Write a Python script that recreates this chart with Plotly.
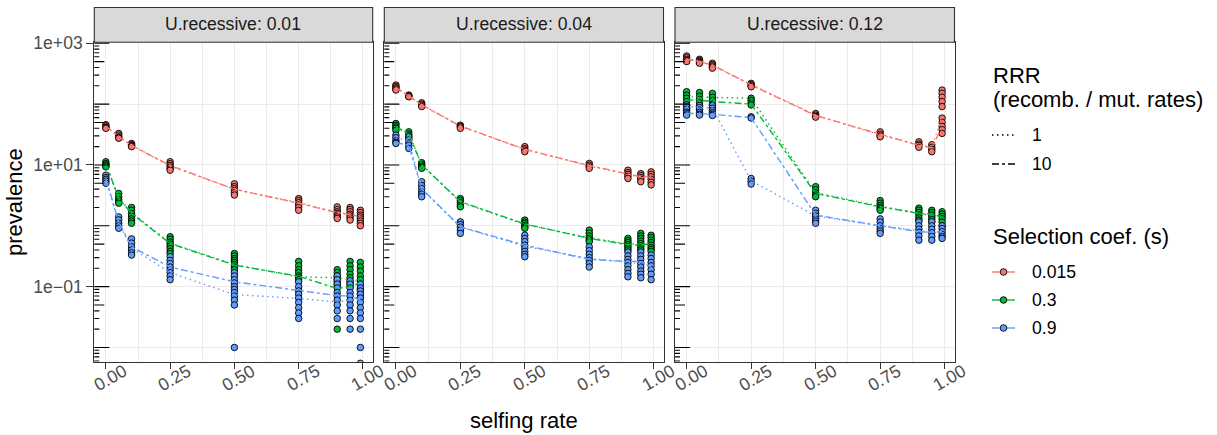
import math
import plotly.graph_objects as go

W, H = 1217, 435

# ---------------- data ----------------
selfing = [0, 0.05, 0.1, 0.25, 0.5, 0.75, 0.9, 0.95, 0.99]
u_labels = ["U.recessive: 0.01", "U.recessive: 0.04", "U.recessive: 0.12"]
s_labels = ["0.015", "0.3", "0.9"]
rrr_labels = ["1", "10"]
x_tick_vals = [0, 0.25, 0.5, 0.75, 1.0]
x_tick_text = ["0.00", "0.25", "0.50", "0.75", "1.00"]
y_tick_vals = [0.1, 10, 1000]
y_tick_text = ["1e\u221201", "1e+01", "1e+03"]

# replicate points: one list per selfing rate
pts_u001_s0015 = [[46, 44, 42, 41, 40], [33, 31, 29, 28, 27.5], [22.5, 21.5, 21, 20.5, 20],
                  [11.3, 10.5, 9.8, 9.2, 8.6, 8.2], [4.9, 4.4, 4.1, 3.8, 3.5, 3.2],
                  [2.8, 2.6, 2.4, 2.2, 2.0, 1.8], [2.05, 1.85, 1.7, 1.6, 1.5, 1.4, 1.32],
                  [2.0, 1.85, 1.7, 1.55, 1.45, 1.35, 1.24], [1.8, 1.65, 1.5, 1.4, 1.3, 1.2, 1.1, 1.0]]
pts_u001_s03 = [[11.3, 10.5, 10, 9.6, 9.3], [3.4, 3.0, 2.7, 2.5, 2.35], [2.0, 1.8, 1.6, 1.45, 1.3, 1.2, 1.1],
                [0.66, 0.6, 0.54, 0.5, 0.46, 0.42, 0.38, 0.35], [0.35, 0.32, 0.29, 0.27, 0.25, 0.23, 0.21, 0.19],
                [0.26, 0.22, 0.19, 0.17, 0.15, 0.14, 0.13], [0.19, 0.17, 0.15, 0.14, 0.13, 0.12, 0.11, 0.1, 0.02],
                [0.26, 0.22, 0.19, 0.16, 0.14, 0.12, 0.11, 0.1], [0.25, 0.21, 0.18, 0.15, 0.13, 0.11, 0.09, 0.075, 0.066]]
pts_u001_s09 = [[6.8, 6.2, 5.8, 5.4, 5.0], [1.4, 1.25, 1.1, 1.0, 0.91], [0.61, 0.52, 0.45, 0.4, 0.36, 0.33],
                [0.31, 0.27, 0.24, 0.21, 0.19, 0.17, 0.15, 0.13],
                [0.17, 0.15, 0.13, 0.115, 0.1, 0.09, 0.08, 0.07, 0.06, 0.05, 0.01],
                [0.12, 0.1, 0.085, 0.075, 0.065, 0.055, 0.045, 0.037, 0.03],
                [0.15, 0.13, 0.11, 0.095, 0.08, 0.07, 0.06, 0.05, 0.04, 0.03],
                [0.125, 0.11, 0.095, 0.08, 0.07, 0.06, 0.05, 0.04, 0.03, 0.02],
                [0.11, 0.095, 0.085, 0.075, 0.065, 0.055, 0.045, 0.037, 0.03, 0.02, 0.01, 0.0055]]

pts_u004_s0015 = [[206, 195, 185, 178, 170], [141, 137, 134, 132], [105, 100, 96, 91], [45, 43.5, 42, 40],
                  [20, 18.5, 17.5, 16.5], [10.6, 9.9, 9.3, 8.8], [8.2, 7.5, 7.0, 6.5, 6.0],
                  [7.2, 6.7, 6.2, 5.8, 5.3], [7.7, 7.0, 6.4, 5.8, 5.2, 4.7]]
pts_u004_s03 = [[48, 45, 42, 40, 37], [35, 32, 30, 27.5], [10.9, 10.2, 9.6, 9.2, 8.8], [2.8, 2.6, 2.4, 2.2, 2.05],
                [1.24, 1.15, 1.08, 1.0, 0.95, 0.91], [0.85, 0.76, 0.68, 0.62, 0.58, 0.55],
                [0.62, 0.57, 0.53, 0.49, 0.46, 0.43, 0.4], [0.75, 0.68, 0.62, 0.56, 0.51, 0.47, 0.43, 0.4],
                [0.7, 0.64, 0.58, 0.53, 0.48, 0.44, 0.41, 0.38]]
pts_u004_s09 = [[31, 28, 25, 23.5, 22.6], [29, 26, 23, 21, 18.7], [5.3, 4.6, 4.1, 3.6, 3.3, 3.0],
                [1.16, 1.05, 0.95, 0.85, 0.75], [0.7, 0.62, 0.55, 0.48, 0.43, 0.38, 0.34, 0.31],
                [0.45, 0.39, 0.34, 0.3, 0.27, 0.24, 0.21], [0.37, 0.32, 0.28, 0.25, 0.22, 0.19, 0.165, 0.145],
                [0.37, 0.32, 0.28, 0.24, 0.21, 0.18, 0.16, 0.14], [0.33, 0.29, 0.25, 0.22, 0.19, 0.16, 0.13]]

pts_u012_s0015 = [[618, 580, 545, 520, 500], [545, 520, 500, 485, 470], [470, 445, 425, 405, 390],
                  [219, 210, 200, 193], [70, 66, 63, 61], [35, 32, 30, 29], [24, 22, 21, 19.5],
                  [21.5, 19.5, 18, 16.5], [170, 150, 130, 110, 91, 59, 50, 43, 38, 33]]
pts_u012_s03 = [[160, 140, 125, 110, 95, 85, 79], [155, 135, 120, 105, 92, 82], [150, 130, 115, 100, 88, 80],
                [125, 115, 105, 97], [4.4, 3.9, 3.5, 3.2, 3.0], [2.6, 2.35, 2.15, 2.0, 1.9, 1.8],
                [1.95, 1.8, 1.65, 1.5, 1.35, 1.24], [1.8, 1.65, 1.5, 1.38, 1.27, 1.16],
                [1.7, 1.55, 1.42, 1.3, 1.15, 1.0]]
pts_u012_s09 = [[97, 90, 82, 74, 70, 66], [95, 88, 80, 73, 68, 66], [95, 86, 78, 72, 68, 65],
                [62, 59, 6.0, 5.4, 4.85], [1.8, 1.6, 1.45, 1.3, 1.2, 1.1], [1.3, 1.15, 1.0, 0.9, 0.82, 0.75],
                [1.16, 1.0, 0.88, 0.78, 0.68, 0.58], [1.16, 1.0, 0.88, 0.77, 0.67, 0.58],
                [1.0, 0.9, 0.8, 0.72, 0.66, 0.62]]

# summary lines per RRR
line_u001_s0015_rrr1 = [42, 29, 21, 9.6, 4.0, 2.4, 1.66, 1.55, 1.45]
line_u001_s0015_rrr10 = [43, 29.5, 21, 9.8, 4.0, 2.35, 1.64, 1.52, 1.42]
line_u001_s03_rrr1 = [10.4, 2.9, 1.65, 0.52, 0.23, 0.145, 0.14, 0.13, 0.12]
line_u001_s03_rrr10 = [10.6, 2.8, 1.6, 0.51, 0.226, 0.148, 0.093, 0.1, 0.115]
line_u001_s09_rrr1 = [5.8, 1.1, 0.43, 0.17, 0.074, 0.064, 0.056, 0.06, 0.06]
line_u001_s09_rrr10 = [6.0, 1.16, 0.45, 0.21, 0.12, 0.085, 0.071, 0.07, 0.06]

line_u004_s0015_rrr1 = [187, 135, 98, 43, 18.2, 9.6, 7.0, 6.3, 6.3]
line_u004_s0015_rrr10 = [189, 136, 97, 43.7, 18, 9.8, 7.1, 6.4, 6.5]
line_u004_s03_rrr1 = [43, 33, 10.2, 2.45, 1.05, 0.64, 0.5, 0.5, 0.5]
line_u004_s03_rrr10 = [42, 32, 10, 2.5, 1.07, 0.62, 0.49, 0.48, 0.51]
line_u004_s09_rrr1 = [28, 25, 4.0, 0.95, 0.46, 0.29, 0.25, 0.24, 0.22]
line_u004_s09_rrr10 = [23.4, 21, 4.1, 0.96, 0.48, 0.28, 0.26, 0.26, 0.21]

line_u012_s0015_rrr1 = [560, 510, 430, 210, 66, 31, 21.5, 19.5, 62]
line_u012_s0015_rrr10 = [545, 500, 440, 206, 65, 32, 21, 19, 42]
line_u012_s03_rrr1 = [132, 130, 128, 125, 3.5, 2.1, 1.6, 1.5, 1.4]
line_u012_s03_rrr10 = [117, 116, 110, 100, 3.4, 2.05, 1.6, 1.55, 1.4]
line_u012_s09_rrr1 = [91, 88, 86, 5.5, 1.45, 1.0, 0.82, 0.78, 0.8]
line_u012_s09_rrr10 = [71, 70, 68, 60, 1.5, 1.0, 0.8, 0.78, 0.8]

points = [
    [pts_u001_s0015, pts_u001_s03, pts_u001_s09],
    [pts_u004_s0015, pts_u004_s03, pts_u004_s09],
    [pts_u012_s0015, pts_u012_s03, pts_u012_s09],
]
lines = [
    [[line_u001_s0015_rrr1, line_u001_s0015_rrr10], [line_u001_s03_rrr1, line_u001_s03_rrr10],
     [line_u001_s09_rrr1, line_u001_s09_rrr10]],
    [[line_u004_s0015_rrr1, line_u004_s0015_rrr10], [line_u004_s03_rrr1, line_u004_s03_rrr10],
     [line_u004_s09_rrr1, line_u004_s09_rrr10]],
    [[line_u012_s0015_rrr1, line_u012_s0015_rrr10], [line_u012_s03_rrr1, line_u012_s03_rrr10],
     [line_u012_s09_rrr1, line_u012_s09_rrr10]],
]

# ---------------- style ----------------
FONT = "Liberation Sans, Arial, sans-serif"
s_colors = ["#F8766D", "#00BA38", "#619CFF"]
rrr_dash = ["1.5px,3.5px", "7px,3px,3px,3px"]
LW = 1.4

panels_px = [(94.3, 372.7), (384.3, 663.5), (675.0, 954.5)]
top_px, bot_px = 42.3, 361.7
strip_top_px = 7.5
x_range = [-0.045, 1.038]
y_range = [-2.234, 3.016]


def px_x(p):
    return p / W


def px_y(p):
    return 1 - p / H


fig = go.Figure()

for p in range(3):
    ax = "" if p == 0 else str(p + 1)
    for si in range(3):
        xs, ys = [], []
        for xi, vals in zip(selfing, points[p][si]):
            xs += [xi] * len(vals)
            ys += vals
        fig.add_trace(go.Scatter(
            x=xs, y=ys, mode="markers", xaxis="x" + ax, yaxis="y" + ax, showlegend=False,
            marker=dict(size=6.5, color=s_colors[si], line=dict(color="black", width=0.9)),
            hoverinfo="skip"))
    for si in range(3):
        for ri in range(2):
            fig.add_trace(go.Scatter(
                x=selfing, y=lines[p][si][ri], mode="lines", xaxis="x" + ax, yaxis="y" + ax,
                showlegend=False, line=dict(color=s_colors[si], width=LW, dash=rrr_dash[ri]),
                hoverinfo="skip"))

layout = dict(
    width=W, height=H, margin=dict(l=0, r=0, t=0, b=0, autoexpand=False),
    paper_bgcolor="white", plot_bgcolor="white", showlegend=False,
    font=dict(family=FONT, size=17.6, color="#1A1A1A"),
    shapes=[], annotations=[],
)

for p in range(3):
    ax = "" if p == 0 else str(p + 1)
    l, r = panels_px[p]
    layout["xaxis" + ax] = dict(
        domain=[px_x(l), px_x(r)], range=x_range, anchor="y" + ax,
        tickmode="array", tickvals=x_tick_vals, showticklabels=False,
        ticks="outside", ticklen=6, tickwidth=1.1, tickcolor="#333333",
        showgrid=True, gridcolor="#EBEBEB", gridwidth=1.1,
        minor=dict(tickmode="array", tickvals=[0.125, 0.375, 0.625, 0.875], showgrid=True,
                   gridcolor="#EBEBEB", gridwidth=0.55, ticks=""),
        showline=True, mirror=True, linecolor="#333333", linewidth=1.1, zeroline=False,
    )
    layout["yaxis" + ax] = dict(
        domain=[px_y(bot_px), px_y(top_px)], type="log", range=y_range, anchor="x" + ax,
        tickmode="array", tickvals=y_tick_vals, ticktext=y_tick_text,
        showticklabels=(p == 0), ticks="outside" if p == 0 else "", ticklen=7, tickwidth=1.1,
        tickcolor="#333333", tickfont=dict(size=17.6, color="#4D4D4D", family=FONT),
        showgrid=True, gridcolor="#EBEBEB", gridwidth=1.1,
        minor=dict(tickmode="array", tickvals=[0.01, 1, 100], showgrid=True,
                   gridcolor="#EBEBEB", gridwidth=0.55, ticks=""),
        showline=True, mirror=True, linecolor="#333333", linewidth=1.1, zeroline=False,
    )
    layout["shapes"].append(dict(type="rect", xref="paper", yref="paper",
                                 x0=px_x(l), x1=px_x(r), y0=px_y(top_px), y1=px_y(strip_top_px),
                                 fillcolor="#D9D9D9", line=dict(color="#333333", width=1.1), layer="above"))
    layout["annotations"].append(dict(text=u_labels[p], xref="paper", yref="paper",
                                      x=px_x((l + r) / 2), y=px_y((top_px + strip_top_px) / 2 - 1),
                                      showarrow=False, xanchor="center", yanchor="middle",
                                      font=dict(size=17.6, color="#1A1A1A", family=FONT)))
    # log ticks on the left side of each panel
    pw = r - l
    for d in range(-3, 4):
        for k in range(1, 10):
            val = k * 10 ** d
            v = math.log10(val)
            if v < y_range[0] or v > y_range[1]:
                continue
            ln = 15 if k == 1 else (10 if k == 5 else 5)
            layout["shapes"].append(dict(type="line", xref="x" + ax + " domain", yref="y" + ax,
                                         x0=0, x1=ln / pw, y0=val, y1=val,
                                         line=dict(color="black", width=1.1), layer="above"))
    for tv, tt in zip(x_tick_vals, x_tick_text):
        layout["annotations"].append(dict(text=tt, xref="x" + ax, yref="paper", x=tv, y=px_y(377.5),
                                          xshift=4, textangle=-30, showarrow=False,
                                          xanchor="center", yanchor="middle",
                                          font=dict(size=17.6, color="#4D4D4D", family=FONT)))

layout["annotations"].append(dict(text="prevalence", xref="paper", yref="paper", x=px_x(15), y=px_y(202),
                                  textangle=-90, showarrow=False, xanchor="center", yanchor="middle",
                                  font=dict(size=22, color="black", family=FONT)))
layout["annotations"].append(dict(text="selfing rate", xref="paper", yref="paper", x=px_x(524), y=px_y(420),
                                  showarrow=False, xanchor="center", yanchor="middle",
                                  font=dict(size=22, color="black", family=FONT)))

# ---------------- legend (drawn as guide) ----------------
LEG_X = 991
KEY_X0, KEY_X1, TXT_X = 992, 1015, 1030
for txt, yy in [("RRR", 75), ("(recomb. / mut. rates)", 100), ("Selection coef. (s)", 236)]:
    layout["annotations"].append(dict(text=txt, xref="paper", yref="paper", x=px_x(LEG_X), y=px_y(yy),
                                      showarrow=False, xanchor="left", yanchor="middle",
                                      font=dict(size=22, color="black", family=FONT)))
rrr_key_y = [135, 164]
for ri in range(2):
    yy = rrr_key_y[ri]
    layout["shapes"].append(dict(type="line", xref="paper", yref="paper",
                                 x0=px_x(KEY_X0), x1=px_x(KEY_X1), y0=px_y(yy), y1=px_y(yy),
                                 line=dict(color="black", width=LW, dash=rrr_dash[ri])))
    layout["annotations"].append(dict(text=rrr_labels[ri], xref="paper", yref="paper", x=px_x(TXT_X),
                                      y=px_y(yy), showarrow=False, xanchor="left", yanchor="middle",
                                      font=dict(size=17.6, color="black", family=FONT)))
s_key_y = [272, 300, 328]
for si in range(3):
    yy = s_key_y[si]
    cx = (KEY_X0 + KEY_X1) / 2
    layout["shapes"].append(dict(type="line", xref="paper", yref="paper",
                                 x0=px_x(KEY_X0), x1=px_x(KEY_X1), y0=px_y(yy), y1=px_y(yy),
                                 line=dict(color=s_colors[si], width=LW)))
    layout["shapes"].append(dict(type="circle", xref="paper", yref="paper",
                                 x0=px_x(cx - 3.3), x1=px_x(cx + 3.3), y0=px_y(yy + 3.3), y1=px_y(yy - 3.3),
                                 fillcolor=s_colors[si], line=dict(color="black", width=0.9)))
    layout["annotations"].append(dict(text=s_labels[si], xref="paper", yref="paper", x=px_x(TXT_X),
                                      y=px_y(yy), showarrow=False, xanchor="left", yanchor="middle",
                                      font=dict(size=17.6, color="black", family=FONT)))

fig.update_layout(**layout)
fig.write_html("out.html", config={"displayModeBar": False},
               post_script="document.body.style.margin='0px';")
